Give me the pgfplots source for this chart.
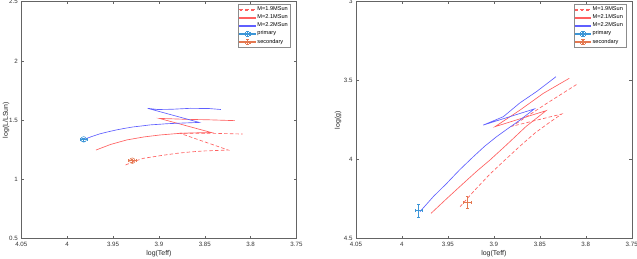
\documentclass[border=0pt]{standalone}
\usepackage{fontspec}
\setmainfont{Liberation Sans}
\usepackage{pgfplots}
\pgfplotsset{compat=1.18}
\definecolor{trackred}{RGB}{255,95,95}
\definecolor{trackblue}{RGB}{95,95,255}
\definecolor{primcol}{RGB}{60,150,215}
\definecolor{seccol}{RGB}{228,120,80}
\definecolor{axcol}{RGB}{100,100,100}
\pgfplotsset{
  hrbase/.style={
    scale only axis, width=275.2bp, height=237bp, anchor=south west,
    x dir=reverse, xmin=3.75, xmax=4.05,
    xtick={3.75,3.8,3.85,3.9,3.95,4,4.05},
    xticklabels={3.75,3.8,3.85,3.9,3.95,4,4.05},
    tick label style={font=\fontsize{6.2}{7}\selectfont, text=black!80},
    axis line style={axcol, line width=0.4bp},
    tick style={axcol, line width=0.4bp},
    major tick length=2.6bp,
    xlabel={log(Teff)},
    every axis x label/.style={at={(axis description cs:0.5,-0.062)}, anchor=center,
      font=\fontsize{7}{7.5}\selectfont, text=black!85},
    legend style={at={(axis description cs:0.979,0.990)}, anchor=north east,
      font=\fontsize{5.6}{6.4}\selectfont, draw=black!45, line width=0.4bp,
      inner sep=0.8bp, row sep=-1.4bp, cells={anchor=west}},
  },
  errleg/.style={legend image code/.code={
    \fill[fill=#1] (0bp,-0.25bp) rectangle (15.5bp,0.25bp);
    \fill[fill=#1] (7.5bp,-2.6bp) rectangle (8bp,2.6bp);
    \fill[fill=#1] (6.6bp,2.35bp) rectangle (8.9bp,2.85bp);
    \fill[fill=#1] (6.6bp,-2.85bp) rectangle (8.9bp,-2.35bp);
    \fill[fill=#1] (5.15bp,-1.1bp) rectangle (5.65bp,1.1bp);
    \fill[fill=#1] (9.85bp,-1.1bp) rectangle (10.35bp,1.1bp);}},
  lnleg/.style={legend image code/.code={
    \fill[fill=#1] (0bp,-0.35bp) rectangle (15.5bp,0.35bp);}},
  dsleg/.style={legend image code/.code={
    \fill[fill=#1] (0bp,-0.35bp) rectangle (3.5bp,0.35bp);
    \fill[fill=#1] (5.7bp,-0.35bp) rectangle (9.2bp,0.35bp);
    \fill[fill=#1] (11.4bp,-0.35bp) rectangle (14.9bp,0.35bp);}},
}
\begin{document}
\begin{tikzpicture}
\path[use as bounding box] (0,0) rectangle (637bp,259bp);
% ---------------- left: HR diagram ----------------
\begin{axis}[hrbase, at={(21.3bp,20.33bp)},
  ymin=0.5, ymax=2.5, ytick={0.5,1,1.5,2,2.5}, yticklabels={0.5,1,1.5,2,2.5},
  ylabel={log(L/LSun)},
  every axis y label/.style={at={(axis description cs:-0.055,0.5)}, rotate=90, anchor=center,
    font=\fontsize{7}{7.5}\selectfont, text=black!85}]
\addplot[draw=trackred, line width=0.65bp, dash pattern=on 3.5bp off 2.2bp, dsleg={trackred}] coordinates {
 (3.9363,1.122) (3.927,1.152) (3.917,1.178) (3.8963,1.203) (3.8806,1.220)
 (3.8656,1.232) (3.8516,1.240) (3.8244,1.248)
 (3.877,1.389) (3.8451,1.390) (3.8087,1.383)};
\addlegendentry{M=1.9MSun}
\addplot[draw=trackred, line width=0.65bp, lnleg={trackred}] coordinates {
 (3.9686,1.248) (3.9527,1.295) (3.9351,1.333) (3.9168,1.358) (3.8989,1.375)
 (3.877,1.389) (3.8604,1.393) (3.8425,1.395)
 (3.8996,1.515) (3.8697,1.507) (3.8451,1.503) (3.8171,1.496)};
\addlegendentry{M=2.1MSun}
\addplot[draw=trackblue, line width=0.65bp, lnleg={trackblue}] coordinates {
 (3.9817,1.338) (3.9731,1.362) (3.9642,1.385) (3.9547,1.403) (3.9461,1.418)
 (3.9373,1.431) (3.9280,1.443) (3.9168,1.453) (3.9097,1.460) (3.8963,1.467)
 (3.8916,1.470) (3.8734,1.476) (3.8560,1.481)
 (3.9123,1.600) (3.9014,1.590) (3.886,1.592) (3.8656,1.600) (3.8451,1.598) (3.8324,1.590)};
\addlegendentry{M=2.2MSun}
\addplot[primcol, only marks, mark=o, mark size=2.8bp, mark options={line width=0.55bp, fill=primcol!35},
  errleg={primcol},
  error bars/.cd, x dir=both, x explicit, y dir=both, y explicit,
  error bar style={primcol, line width=0.45bp},
  error mark options={rotate=90, mark size=1.2bp, primcol}]
  coordinates {(3.982,1.338) +- (0.004,0.012)};
\addlegendentry{primary}
\addplot[seccol, only marks, mark=o, mark size=2.8bp, mark options={line width=0.55bp, fill=seccol!25},
  errleg={seccol},
  error bars/.cd, x dir=both, x explicit, y dir=both, y explicit,
  error bar style={seccol, line width=0.45bp},
  error mark options={rotate=90, mark size=1.2bp, seccol}]
  coordinates {(3.929,1.158) +- (0.004,0.012)};
\addlegendentry{secondary}
\end{axis}
% ---------------- right: log g ----------------
\begin{axis}[hrbase, at={(356bp,20.33bp)}, width=275.7bp,
  y dir=reverse, ymin=3, ymax=4.5, ytick={3,3.5,4,4.5}, yticklabels={3,3.5,4,4.5},
  ylabel={log(g)},
  every axis y label/.style={at={(axis description cs:-0.065,0.5)}, rotate=90, anchor=center,
    font=\fontsize{7}{7.5}\selectfont, text=black!85}]
\addplot[draw=trackred, line width=0.65bp, dash pattern=on 3.5bp off 2.2bp, dsleg={trackred}] coordinates {
 (3.9368,4.298) (3.9205,4.191) (3.9042,4.091) (3.8879,4.002) (3.8715,3.914)
 (3.8552,3.831) (3.8389,3.762) (3.8261,3.711)
 (3.880,3.788) (3.8425,3.644) (3.8091,3.521)};
\addlegendentry{M=1.9MSun}
\addplot[draw=trackred, line width=0.65bp, lnleg={trackred}] coordinates {
 (3.9684,4.340) (3.951,4.245) (3.9332,4.150) (3.919,4.075) (3.9042,4.002)
 (3.886,3.905) (3.865,3.790) (3.8432,3.690)
 (3.8987,3.791) (3.8715,3.686) (3.8461,3.580) (3.8179,3.485)};
\addlegendentry{M=2.1MSun}
\addplot[draw=trackblue, line width=0.65bp, lnleg={trackblue}] coordinates {
 (3.9804,4.329) (3.9659,4.234) (3.9513,4.150) (3.937,4.063) (3.9223,3.981)
 (3.910,3.915) (3.8969,3.854) (3.884,3.800) (3.8715,3.749) (3.856,3.679)
 (3.9115,3.781) (3.8897,3.728) (3.8715,3.640) (3.8533,3.568) (3.8324,3.475)};
\addlegendentry{M=2.2MSun}
\addplot[primcol, only marks, mark=*, mark size=0.2bp,
  errleg={primcol},
  error bars/.cd, x dir=both, x explicit, y dir=both, y explicit,
  error bar style={primcol, line width=0.5bp},
  error mark options={rotate=90, mark size=1.3bp, primcol}]
  coordinates {(3.982,4.323) +- (0.0035,0.04)};
\addlegendentry{primary}
\addplot[seccol, only marks, mark=*, mark size=0.2bp,
  errleg={seccol},
  error bars/.cd, x dir=both, x explicit, y dir=both, y explicit,
  error bar style={seccol, line width=0.5bp},
  error mark options={rotate=90, mark size=1.3bp, seccol}]
  coordinates {(3.929,4.270) +- (0.0045,0.04)};
\addlegendentry{secondary}
\end{axis}
\end{tikzpicture}
\end{document}
